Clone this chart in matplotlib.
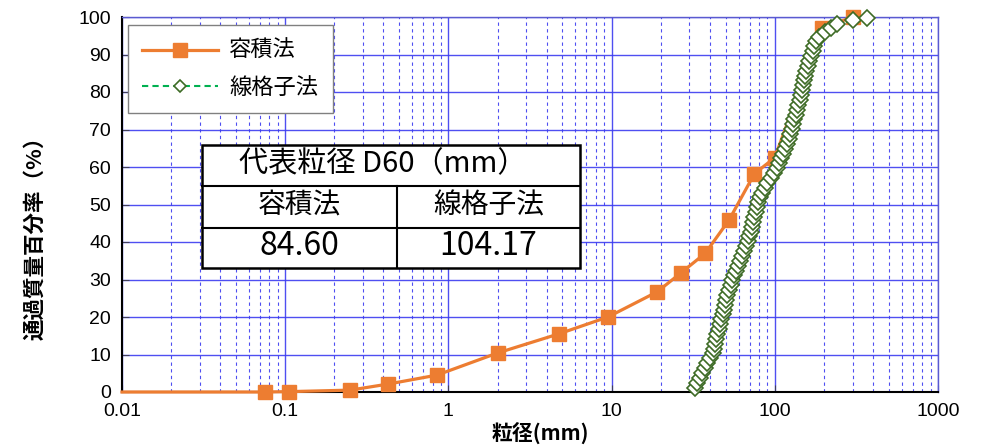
import matplotlib
matplotlib.use("Agg")
import matplotlib.pyplot as plt
from matplotlib.lines import Line2D
from matplotlib.patches import Rectangle
from matplotlib.ticker import FixedLocator, FixedFormatter, LogLocator, NullFormatter

W, H = 985, 445

# 容積法 (sieve analysis): particle size [mm] / passing [%]
vol_size = [0.01, 0.075, 0.106, 0.25, 0.425, 0.85, 2.0, 4.75, 9.5, 19.0,
            26.5, 37.5, 52.5, 75.0, 100.0, 195.0, 300.0]
vol_pass = [0.0, 0.0, 0.1, 0.5, 2.1, 4.5, 10.4, 15.5, 20.0, 26.7,
            31.7, 37.0, 45.9, 58.2, 62.5, 97.0, 100.0]

# 線格子法 (line-grid method)
grid_size = [32.5, 33.6, 34.6, 36.0, 37.3, 38.6, 40.2, 41.9, 42.6, 43.3,
             43.9, 44.4, 45.3, 46.0, 47.0, 47.9, 48.6, 49.3, 50.0, 50.9,
             52.1, 53.6, 55.0, 56.2, 57.9, 59.6, 61.5, 63.0, 64.8, 66.5,
             68.3, 69.6, 71.0, 72.1, 73.5, 74.9, 76.2, 77.6, 79.3, 81.4,
             84.0, 86.9, 90.1, 94.2, 98.6, 103.2, 106.8, 109.9, 113.0, 116.2,
             119.0, 121.5, 124.2, 126.9, 129.5, 131.8, 134.0, 136.6, 139.2, 141.8,
             144.5, 147.0, 149.2, 151.0, 153.2, 156.3, 159.8, 163.0, 166.5, 170.5,
             174.4, 179.0, 186.0, 204.0, 222.0, 240.0, 300.0, 367.0]
grid_pass = [1.0, 2.4, 3.8, 5.1, 6.4, 7.7, 9.0, 10.3, 11.6, 12.9,
             14.2, 15.5, 16.8, 18.1, 19.4, 20.7, 22.0, 23.3, 24.6, 25.9,
             27.2, 28.5, 29.8, 31.1, 32.4, 33.7, 35.0, 36.3, 37.6, 38.9,
             40.2, 41.5, 42.8, 44.1, 45.4, 46.7, 48.0, 49.3, 50.6, 51.9,
             53.2, 54.5, 55.8, 57.1, 58.4, 59.7, 61.0, 62.3, 63.6, 64.9,
             66.2, 67.5, 68.8, 70.1, 71.4, 72.7, 74.0, 75.3, 76.6, 77.9,
             79.2, 80.5, 81.8, 83.1, 84.4, 85.7, 87.0, 88.3, 89.6, 90.9,
             92.2, 93.5, 94.8, 96.0, 97.0, 98.2, 99.1, 99.8]

methods = ["容積法", "線格子法"]
d60 = [84.60, 104.17]

x_ticks = [0.01, 0.1, 1, 10, 100, 1000]
x_tick_labels = ["0.01", "0.1", "1", "10", "100", "1000"]

ORANGE = "#ed7d31"
GREEN = "#00b050"
DKGREEN = "#3d6b25"
BLUE = "#3c3cf0"
JP = "Noto Sans CJK JP"


def fpx(x, y):
    return x / W, 1 - y / H


fig = plt.figure(figsize=(W / 100, H / 100), dpi=100)
ax = fig.add_axes([122 / W, 1 - 392 / H, (938 - 122) / W, (392 - 17) / H])

ax.plot(vol_size, vol_pass, color=ORANGE, lw=2.3, marker="s", ms=10,
        markevery=list(range(1, len(vol_size))), clip_on=False, zorder=3,
        label=methods[0])
ax.plot(grid_size, grid_pass, color=GREEN, lw=1.5, ls=(0, (3, 2)),
        marker="D", ms=8.5, mfc="white", mec=DKGREEN, mew=1.2,
        clip_on=False, zorder=4, label=methods[1])

ax.set_xscale("log")
ax.set_xlim(0.01, 1000)
ax.set_ylim(0, 100)
ax.xaxis.set_major_locator(FixedLocator(x_ticks))
ax.xaxis.set_major_formatter(FixedFormatter(x_tick_labels))
ax.xaxis.set_minor_locator(LogLocator(base=10, subs=range(2, 10)))
ax.xaxis.set_minor_formatter(NullFormatter())
ax.set_yticks(range(0, 101, 10))

ax.grid(which="major", color=BLUE, lw=1.0, alpha=0.9, zorder=0)
ax.grid(which="minor", axis="x", color=BLUE, lw=0.8, ls=(0, (3, 3)), alpha=0.9)
ax.set_axisbelow(True)

ax.tick_params(which="major", direction="in", length=5, color="#40405a",
               labelsize=14, pad=8)
ax.tick_params(which="minor", length=0)
for lab in ax.get_xticklabels() + ax.get_yticklabels():
    lab.set_family("Liberation Sans")

for side in ("left", "bottom"):
    ax.spines[side].set_color("black")
    ax.spines[side].set_linewidth(1.5)
for side in ("top", "right"):
    ax.spines[side].set_color("#5a5ad0")
    ax.spines[side].set_linewidth(1.0)

leg = ax.legend(loc="upper left", bbox_to_anchor=(0.0074, 0.979),
                borderaxespad=0, fancybox=False, framealpha=1,
                edgecolor="#808080", prop={"family": JP, "size": 16},
                handlelength=3.4, handletextpad=0.5, labelspacing=0.6,
                borderpad=0.65, numpoints=1)
leg.get_frame().set_linewidth(1.0)
for h in leg.legend_handles[1:]:
    h.set_markersize(6.5)

fig.text(*fpx(35, 233), "通過質量百分率（%）", family=JP, fontsize=15.5,
         fontweight="bold", rotation=90, ha="center", va="center")
fig.text(*fpx(540, 433), "粒径(mm)", family=JP, fontsize=15,
         fontweight="bold", ha="center", va="center")

# D60 summary box
x0, x1, xm = 202, 580, 397
y0, y1, y2, y3 = 145, 186, 228, 268
tr = fig.transFigure
fig.patches.append(Rectangle(fpx(x0, y3), (x1 - x0) / W, (y3 - y0) / H,
                             transform=tr, facecolor="white",
                             edgecolor="black", lw=1.8, zorder=10))
for yy in (y1, y2):
    fig.lines.append(Line2D([x0 / W, x1 / W], [1 - yy / H] * 2,
                            transform=tr, color="black", lw=1.5, zorder=11))
fig.lines.append(Line2D([xm / W] * 2, [1 - y1 / H, 1 - y3 / H],
                        transform=tr, color="black", lw=1.5, zorder=11))

fig.text(*fpx(383, 164), "代表粒径 D60（mm）", family=JP, fontsize=21,
         ha="center", va="center", zorder=12)
col_x = [(x0 + xm) / 2, (xm + x1) / 2]
for cx, name, val in zip(col_x, methods, d60):
    fig.text(*fpx(cx, 206), name, family=JP, fontsize=20,
             ha="center", va="center", zorder=12)
    fig.text(*fpx(cx, 246), "{:.2f}".format(val), family=JP, fontsize=23,
             ha="center", va="center", zorder=12)

fig.savefig("out.png", dpi=100)
